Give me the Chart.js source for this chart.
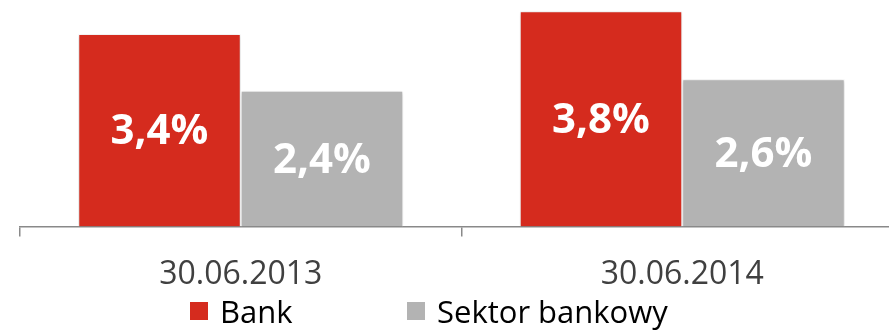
<!DOCTYPE html>
<html>
<head>
<meta charset="utf-8">
<script src="https://cdn.jsdelivr.net/npm/chart.js@4/dist/chart.umd.min.js"></script>
<style>
  html, body { margin: 0; padding: 0; background: #fff; overflow: hidden; }
  #wrap { position: relative; width: 889px; height: 331px; overflow: hidden; }
  #box { position: absolute; left: 0; top: 0; width: 904px; height: 331px; }
  .legend-item {
    position: absolute; top: 293px; height: 36px; line-height: 36px;
    font-family: "Open Sans", sans-serif; font-size: 31px; color: #000;
    display: flex; align-items: center; white-space: nowrap;
  }
  .legend-item i { display: inline-block; width: 18px; height: 18px; margin-right: 12px; }
</style>
</head>
<body>
<div id="wrap">
  <div id="box"><canvas id="chart"></canvas></div>
  <div class="legend-item" id="lg0" style="left:190px"></div>
  <div class="legend-item" id="lg1" style="left:407px"></div>
</div>
<script>
const categories = ['30.06.2013', '30.06.2014'];
const seriesNames = ['Bank', 'Sektor bankowy'];
const bankValues = [3.4, 3.8];
const sectorValues = [2.4, 2.6];
const colors = ['#d52b1e', '#b3b3b3'];

// white value labels in the middle of each bar
const barLabels = {
  id: 'barLabels',
  afterDatasetsDraw(chart) {
    const ctx = chart.ctx;
    ctx.save();
    ctx.fillStyle = '#fff';
    ctx.font = 'bold 42px "Open Sans", sans-serif';
    ctx.textAlign = 'center';
    ctx.textBaseline = 'middle';
    chart.data.datasets.forEach((ds, i) => {
      chart.getDatasetMeta(i).data.forEach((bar, j) => {
        const txt = ds.data[j].toFixed(1).replace('.', ',') + '%';
        ctx.fillText(txt, bar.x, (bar.y + bar.base) / 2 + 2);
      });
    });
    ctx.restore();
  }
};

// soft shadow behind the bars
const barShadow = {
  id: 'barShadow',
  beforeDatasetsDraw(chart) {
    const ctx = chart.ctx;
    ctx.save();
    ctx.shadowColor = 'rgba(0,0,0,0.22)';
    ctx.shadowBlur = 4;
    ctx.shadowOffsetX = 0;
    ctx.shadowOffsetY = 1;
  },
  afterDatasetsDraw(chart) {
    chart.ctx.restore();
  }
};

const chart = new Chart(document.getElementById('chart'), {
  type: 'bar',
  data: {
    labels: categories,
    datasets: [
      { label: seriesNames[0], data: bankValues, backgroundColor: colors[0], borderColor: '#fff', borderWidth: 1 },
      { label: seriesNames[1], data: sectorValues, backgroundColor: colors[1], borderColor: '#fff', borderWidth: 1 }
    ]
  },
  options: {
    responsive: true,
    maintainAspectRatio: false,
    animation: false,
    layout: { padding: { left: 20, right: 1, top: -1, bottom: 18 } },
    datasets: { bar: { categoryPercentage: 0.736, barPercentage: 1 } },
    plugins: {
      legend: { display: false },
      tooltip: { enabled: false }
    },
    scales: {
      x: {
        grid: { drawOnChartArea: false, drawTicks: true, tickLength: 10, color: '#898989', lineWidth: 1.5 },
        border: { display: true, color: '#898989', width: 1.5 },
        ticks: { color: '#404040', padding: 19, font: { family: '"Open Sans", sans-serif', size: 32 } }
      },
      y: { display: false, min: 0, max: 4 }
    }
  },
  plugins: [barShadow, barLabels]
});

// legend below the axis
chart.data.datasets.forEach((ds, i) => {
  const el = document.getElementById('lg' + i);
  el.innerHTML = '<i style="background:' + ds.backgroundColor + '"></i><span>' + ds.label + '</span>';
});
</script>
</body>
</html>
